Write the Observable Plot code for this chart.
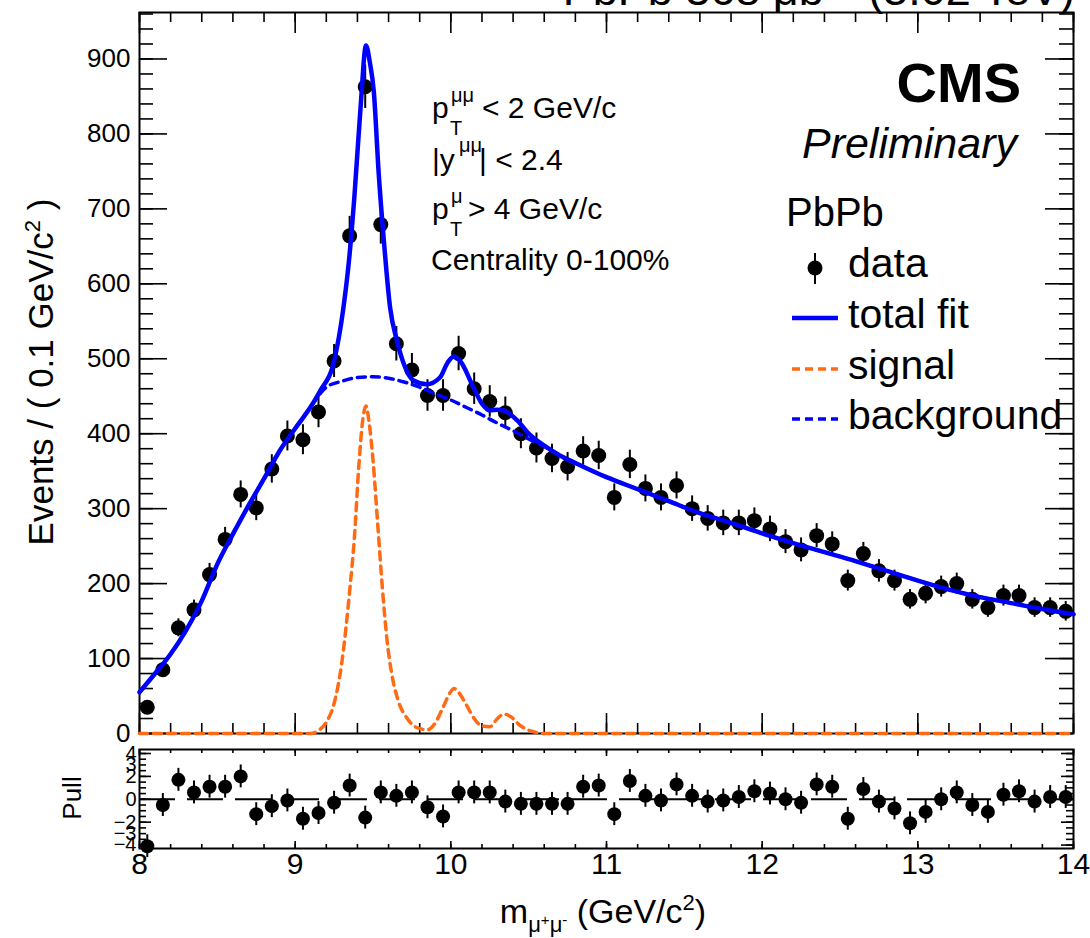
<!DOCTYPE html>
<html>
<head>
<meta charset="utf-8">
<script src="https://cdn.jsdelivr.net/npm/d3@7"></script>
<script src="https://cdn.jsdelivr.net/npm/@observablehq/plot@0.6"></script>
<style>
  html, body { margin: 0; padding: 0; background: white; }
  #wrap { position: relative; width: 1090px; height: 938px; overflow: hidden; background: white; }
  #wrap svg { position: absolute; left: 0; }
  text { font-family: "Liberation Sans", Arial, Helvetica, sans-serif; }
</style>
</head>
<body>
<div id="wrap"></div>
<script>
// ---------------- data ----------------
const massBins = [8.05,8.15,8.25,8.35,8.45,8.55,8.65,8.75,8.85,8.95,
  9.05,9.15,9.25,9.35,9.45,9.55,9.65,9.75,9.85,9.95,
  10.05,10.15,10.25,10.35,10.45,10.55,10.65,10.75,10.85,10.95,
  11.05,11.15,11.25,11.35,11.45,11.55,11.65,11.75,11.85,11.95,
  12.05,12.15,12.25,12.35,12.45,12.55,12.65,12.75,12.85,12.95,
  13.05,13.15,13.25,13.35,13.45,13.55,13.65,13.75,13.85,13.95];
const counts = [35,85,141,165,212,259,319,301,353,397,
  392,429,497,664,863,679,520,485,451,451,
  507,460,443,428,400,381,367,356,377,371,
  315,359,327,315,331,300,287,281,281,284,
  273,256,245,264,253,204,240,217,204,179,
  187,196,200,179,168,184,184,168,168,163];
const countErrors = [6,9,12,13,15,16,18,17,19,20,
  20,21,22,26,29,26,23,22,21,21,
  23,21,21,21,20,20,19,19,19,19,
  18,19,18,18,18,17,17,17,17,17,
  17,16,16,16,16,14,15,15,14,13,
  14,14,14,13,13,14,14,13,13,13];
const pulls = [-4.1,-0.5,1.7,0.6,1.1,1.1,2.0,-1.3,-0.6,-0.1,
  -1.7,-1.2,-0.3,1.2,-1.6,0.6,0.3,0.6,-0.7,-1.5,
  0.6,0.6,0.6,-0.2,-0.4,-0.4,-0.4,-0.4,1.1,1.2,
  -1.3,1.6,0.3,-0.1,1.3,0.3,-0.2,-0.1,0.2,0.7,
  0.5,0.0,-0.3,1.3,1.1,-1.7,0.9,-0.2,-0.8,-2.1,
  -1.1,0.0,0.6,-0.5,-1.1,0.4,0.7,-0.2,0.2,0.2];

const totalMass  = [8.0,8.1,8.2,8.3,8.4,8.5,8.6,8.7,8.8,8.9,9.0,9.1,9.16,9.25,9.31,9.35,9.38,9.42,9.455,9.48,9.505,9.537,9.57,9.61,9.654,9.70,9.76,9.845,9.93,9.98,10.02,10.06,10.145,10.20,10.25,10.30,10.34,10.43,10.5,10.6,10.7,10.8,11.0,11.2,11.4,11.6,11.8,12.0,12.2,12.4,12.6,12.8,13.0,13.2,13.4,13.6,13.8,14.0];
const totalYield = [55,80,106,138,177,226,266,304,340,377,407,436,457,497,568,640,715,835,918,895,857,746,657,568,524,492,471,466,475,495,503,497,462,440,431,432,431,417,400,384,371,361,342,326,310,294,281,267,254,242,230,217,204,192,182,174,166,159];

const bkgMass  = [8.0,8.1,8.2,8.3,8.4,8.5,8.6,8.7,8.8,8.9,9.0,9.1,9.2,9.3,9.4,9.5,9.6,9.7,9.8,9.9,10.0,10.1,10.2,10.3,10.4,10.5,10.6,10.7,10.8,11.0,11.2,11.4,11.6,11.8,12.0,12.2,12.4,12.6,12.8,13.0,13.2,13.4,13.6,13.8,14.0];
const bkgYield = [55,80,106,138,177,226,266,304,340,377,407,436,462,470,475,476,474,469,462,453,445,435,425,414,404,393,383,371,361,342,326,310,294,281,267,254,242,230,217,204,192,182,174,166,159];

const sigMass  = [8.0,9.10,9.15,9.20,9.25,9.30,9.35,9.38,9.41,9.435,9.455,9.475,9.50,9.53,9.56,9.59,9.62,9.66,9.72,9.78,9.85,9.90,9.95,10.00,10.02,10.05,10.10,10.15,10.20,10.25,10.30,10.34,10.38,10.45,10.52,10.60,14.0];
const sigYield = [0,0,4,15,40,95,190,260,360,420,437,415,365,280,195,125,80,45,20,8,5,14,35,56,60,55,38,20,10,9,20,26,23,10,3,0,0];

const xMajorTicks = [8,9,10,11,12,13,14];
const xMinorTicks = d3.range(8, 14.0001, 0.2).map(v => +v.toFixed(1));
const yMajorTicks = [0,100,200,300,400,500,600,700,800,900];
const yMinorTicks = d3.range(0, 961, 20);
const pullLabels = [4,3,2,0,-2,-3,-4];
const pullMajorTicks = [-4,-2,0,2,4];
const pullMinorTicks = d3.range(-4, 4.01, 0.5);

const dataTable  = massBins.map((m, i) => ({m, n: counts[i], e: countErrors[i], p: pulls[i]}));
const totalTable = totalMass.map((m, i) => ({m, v: totalYield[i]}));
const bkgTable   = bkgMass.map((m, i) => ({m, v: bkgYield[i]}));
const sigTable   = sigMass.map((m, i) => ({m, v: sigYield[i]}));

// ---------------- layout ----------------
const W = 1090;
const mL = 139, mR = 17;
const mainH = 760, mainTop = 12, mainBottom = 27;
const pullH = 198, pullTop = 9, pullBottom = 90;
const plotW = W - mL - mR;
const mainPH = mainH - mainTop - mainBottom;
const pullPH = pullH - pullTop - pullBottom;
const BLUE = "#0000ff", ORANGE = "#ff6a14";
const FONT = "Liberation Sans, Arial, Helvetica, sans-serif";

const main = Plot.plot({
  width: W, height: mainH,
  marginLeft: mL, marginRight: mR, marginTop: mainTop, marginBottom: mainBottom,
  style: {fontFamily: FONT, background: "transparent", overflow: "visible"},
  x: {domain: [8, 14], axis: null},
  y: {domain: [0, 962], axis: null},
  marks: [
    Plot.frame({stroke: "black", strokeWidth: 2}),
    Plot.tickX(xMajorTicks, {x: d => d, insetTop: mainPH - 20, stroke: "black", strokeWidth: 1.6}),
    Plot.tickX(xMinorTicks, {x: d => d, insetTop: mainPH - 10, stroke: "black", strokeWidth: 1.6}),
    Plot.tickX(xMajorTicks, {x: d => d, insetBottom: mainPH - 21, stroke: "black", strokeWidth: 1.6}),
    Plot.tickX(xMinorTicks, {x: d => d, insetBottom: mainPH - 10, stroke: "black", strokeWidth: 1.6}),
    Plot.tickY(yMajorTicks, {y: d => d, insetRight: plotW - 28, stroke: "black", strokeWidth: 1.6}),
    Plot.tickY(yMinorTicks, {y: d => d, insetRight: plotW - 14, stroke: "black", strokeWidth: 1.6}),
    Plot.tickY(yMajorTicks, {y: d => d, insetLeft: plotW - 28, stroke: "black", strokeWidth: 1.6}),
    Plot.tickY(yMinorTicks, {y: d => d, insetLeft: plotW - 14, stroke: "black", strokeWidth: 1.6}),
    Plot.text(yMajorTicks, {y: d => d, text: d => String(d), frameAnchor: "left", textAnchor: "end", dx: -9, fontSize: 26, fill: "black"}),
    Plot.ruleX(dataTable, {x: "m", y1: d => d.n - d.e, y2: d => d.n + d.e, stroke: "black", strokeWidth: 2}),
    Plot.dot(dataTable, {x: "m", y: "n", r: 7.5, fill: "black", stroke: null}),
    Plot.line(bkgTable, {x: "m", y: "v", stroke: BLUE, strokeWidth: 3.5, strokeDasharray: "8,6", curve: "monotone-x"}),
    Plot.line(totalTable, {x: "m", y: "v", stroke: BLUE, strokeWidth: 4.5, curve: "monotone-x"}),
    Plot.line(sigTable, {x: "m", y: "v", stroke: ORANGE, strokeWidth: 3.5, strokeDasharray: "8,6", curve: "monotone-x"})
  ]
});

const pull = Plot.plot({
  width: W, height: pullH,
  marginLeft: mL, marginRight: mR, marginTop: pullTop, marginBottom: pullBottom,
  style: {fontFamily: FONT, background: "transparent", overflow: "visible"},
  x: {domain: [8, 14], axis: null},
  y: {domain: [-4.3, 4.35], axis: null},
  marks: [
    Plot.frame({stroke: "black", strokeWidth: 2}),
    Plot.tickX(xMajorTicks, {x: d => d, insetTop: pullPH - 7, stroke: "black", strokeWidth: 1.6}),
    Plot.tickX(xMinorTicks, {x: d => d, insetTop: pullPH - 4, stroke: "black", strokeWidth: 1.6}),
    Plot.tickX(xMajorTicks, {x: d => d, insetBottom: pullPH - 7, stroke: "black", strokeWidth: 1.6}),
    Plot.tickX(xMinorTicks, {x: d => d, insetBottom: pullPH - 4, stroke: "black", strokeWidth: 1.6}),
    Plot.tickY(pullMajorTicks, {y: d => d, insetRight: plotW - 12, stroke: "black", strokeWidth: 1.6}),
    Plot.tickY(pullMinorTicks, {y: d => d, insetRight: plotW - 7, stroke: "black", strokeWidth: 1.6}),
    Plot.tickY(pullMajorTicks, {y: d => d, insetLeft: plotW - 12, stroke: "black", strokeWidth: 1.6}),
    Plot.tickY(pullMinorTicks, {y: d => d, insetLeft: plotW - 7, stroke: "black", strokeWidth: 1.6}),
    Plot.text(pullLabels, {y: d => d, text: d => d < 0 ? "\u2212" + Math.abs(d) : String(d), frameAnchor: "left", textAnchor: "end", dx: -3, fontSize: 20, fill: "black"}),
    Plot.text(xMajorTicks, {x: d => d, text: d => String(d), frameAnchor: "bottom", dy: 25, fontSize: 30, fill: "black"}),
    Plot.ruleY([0], {stroke: "black", strokeWidth: 2, strokeDasharray: "36,12"}),
    Plot.ruleX(dataTable, {x: "m", y1: d => d.p - 1, y2: d => d.p + 1, stroke: "black", strokeWidth: 2}),
    Plot.dot(dataTable, {x: "m", y: "p", r: 7, fill: "black", stroke: null})
  ]
});

const wrap = document.getElementById("wrap");
main.style.top = "0px";
pull.style.top = "740px";
wrap.appendChild(main);
wrap.appendChild(pull);

// ---------------- text helpers ----------------
function txt(svg, x, y, s, o = {}) {
  const t = d3.select(svg).append("text")
    .attr("x", x).attr("y", y)
    .attr("font-size", o.size || 30)
    .attr("text-anchor", o.anchor || "start")
    .attr("fill", "black")
    .style("font-family", FONT);
  if (o.weight) t.attr("font-weight", o.weight);
  if (o.italic) t.attr("font-style", "italic");
  if (o.rotate) t.attr("transform", `rotate(${o.rotate},${x},${y})`);
  if (Array.isArray(s)) {
    for (const seg of s) {
      const ts = t.append("tspan").text(seg.t);
      if (seg.dy) ts.attr("dy", seg.dy);
      if (seg.size) ts.attr("font-size", seg.size);
    }
  } else t.text(s);
  return t;
}
function seg(svg, x1, y1, x2, y2, color, width, dash) {
  const l = d3.select(svg).append("line")
    .attr("x1", x1).attr("y1", y1).attr("x2", x2).attr("y2", y2)
    .attr("stroke", color).attr("stroke-width", width);
  if (dash) l.attr("stroke-dasharray", dash);
}

// title (cut off at the top like the reference)
txt(main, 1075, 5, [{t: "PbPb 368 \u03bcb"}, {t: "\u22121", dy: -16, size: 28}, {t: " (5.02 TeV)", dy: 16}], {size: 45, anchor: "end"});

// selection cuts
txt(main, 432, 118, "p", {size: 30});
txt(main, 451, 102, "\u03bc\u03bc", {size: 20});
txt(main, 450, 135, "T", {size: 20});
txt(main, 482, 118, "< 2 GeV/c", {size: 30});
txt(main, 432, 170, "|y", {size: 30});
txt(main, 459, 152, "\u03bc\u03bc", {size: 20});
txt(main, 479, 170, "| < 2.4", {size: 30});
txt(main, 432, 219, "p", {size: 30});
txt(main, 451, 203, "\u03bc", {size: 20});
txt(main, 450, 236, "T", {size: 20});
txt(main, 468, 219, "> 4 GeV/c", {size: 30});
txt(main, 431, 270, "Centrality 0-100%", {size: 30});

// CMS label
txt(main, 1021, 102, "CMS", {size: 56, anchor: "end", weight: "bold"});
txt(main, 1017, 158, "Preliminary", {size: 43, anchor: "end", italic: true});

// legend
txt(main, 786, 226, "PbPb", {size: 40});
seg(main, 815, 253, 815, 284, "black", 2);
d3.select(main).append("circle").attr("cx", 815).attr("cy", 268).attr("r", 7.5).attr("fill", "black");
txt(main, 848, 277, "data", {size: 41});
seg(main, 792, 318, 838, 318, BLUE, 4.5);
txt(main, 848, 328, "total fit", {size: 41});
seg(main, 792, 369, 838, 369, ORANGE, 3.5, "8,5");
txt(main, 848, 379, "signal", {size: 41});
seg(main, 792, 419, 838, 419, BLUE, 3.5, "8,5");
txt(main, 848, 429, "background", {size: 41});

// y title
txt(main, 53, 372, [{t: "Events / ( 0.1 GeV/c"}, {t: "2", dy: -13, size: 22}, {t: " )", dy: 13}], {size: 35, anchor: "middle", rotate: -90});

// pull title
txt(pull, 81, 58, "Pull", {size: 26, anchor: "middle", rotate: -90});

// x title
txt(pull, 603, 183, [{t: "m"}, {t: "\u03bc", dy: 9, size: 22}, {t: "+", dy: -7, size: 15}, {t: "\u03bc", dy: 7, size: 22}, {t: "-", dy: -7, size: 15}, {t: " (GeV/c", dy: -2}, {t: "2", dy: -13, size: 22}, {t: ")", dy: 13}], {size: 34, anchor: "middle"});
</script>
</body>
</html>
